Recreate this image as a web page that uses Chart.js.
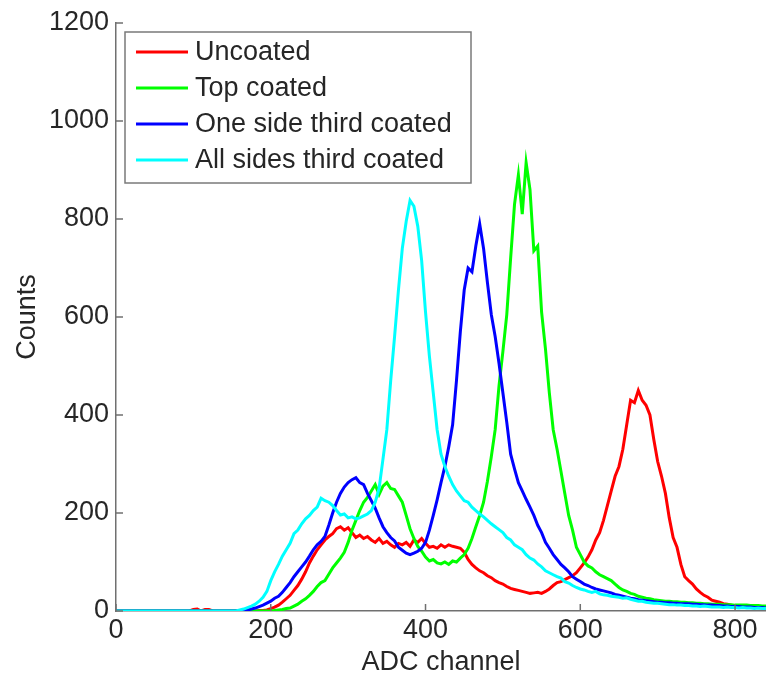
<!DOCTYPE html>
<html>
<head>
<meta charset="utf-8">
<script src="https://cdn.jsdelivr.net/npm/chart.js@4.4.1/dist/chart.umd.min.js"></script>
<style>
    html, body { margin: 0; padding: 0; background: #fff; }
    #chart { display: block; }
</style>
</head>
<body>
<canvas id="chart" width="766" height="676"></canvas>
<script>
// ADC channel bins (every 5 channels, 0..845)
const channels = Array.from({ length: 170 }, (_, i) => i * 5);

const seriesNames = ['Uncoated', 'Top coated', 'One side third coated', 'All sides third coated'];
const seriesColors = ['#ff0000', '#00ff00', '#0000ff', '#00ffff'];

const xTicks = [0, 200, 400, 600, 800];
const yTicks = [0, 200, 400, 600, 800, 1000, 1200];

const uncoated = [
    0, 0, 0, 0, 0, 0, 0, 0, 0, 0, 0, 0, 0, 0, 0, 0, 0, 0, 0, 0,
    3, 4, 0, 3, 3, 0, 0, 0, 0, 0, 0, 0, 0, 0, 0, 0, 0, 1, 1, 2,
    5, 8, 12, 18, 25, 32, 42, 52, 65, 80, 98, 112, 125, 135, 145, 152, 158, 168, 172, 165,
    170, 160, 150, 155, 148, 152, 145, 140, 148, 138, 142, 135, 130, 138, 135, 140, 132, 145, 140, 148,
    138, 130, 132, 128, 135, 130, 135, 132, 130, 128, 120, 105, 95, 88, 82, 78, 72, 68, 62, 58,
    55, 50, 46, 44, 42, 40, 38, 36, 37, 38, 36, 40, 45, 52, 58, 60, 64, 68, 72, 78,
    88, 98, 110, 125, 145, 160, 185, 215, 245, 275, 295, 330, 380, 430, 425, 450, 430, 420, 400, 350,
    305, 275, 240, 190, 150, 130, 95, 70, 62, 55, 45, 38, 32, 28, 22, 20, 18, 15, 14, 12,
    11, 10, 9, 8, 8, 7, 7, 6, 6, 5
];

const topCoated = [
    0, 0, 0, 0, 0, 0, 0, 0, 0, 0, 0, 0, 0, 0, 0, 0, 0, 0, 0, 0,
    0, 0, 0, 0, 0, 0, 0, 0, 0, 0, 0, 0, 0, 0, 0, 0, 0, 0, 0, 0,
    0, 1, 2, 3, 5, 6, 10, 14, 20, 25, 32, 40, 50, 58, 62, 75, 88, 98, 108, 120,
    140, 165, 185, 205, 222, 232, 245, 258, 238, 255, 262, 250, 248, 235, 222, 195, 168, 148, 132, 122,
    110, 102, 105, 98, 96, 100, 95, 102, 100, 108, 115, 128, 148, 172, 195, 222, 265, 315, 370, 460,
    530, 605, 720, 830, 890, 810, 915, 860, 735, 745, 610, 535, 445, 370, 330, 285, 240, 195, 165, 130,
    115, 100, 92, 88, 80, 74, 70, 66, 62, 55, 48, 43, 40, 36, 34, 30, 28, 26, 25, 23,
    22, 21, 20, 20, 19, 19, 18, 18, 17, 17, 16, 16, 15, 15, 14, 14, 14, 13, 13, 13,
    12, 12, 12, 12, 11, 11, 11, 10, 10, 10
];

const oneSide = [
    0, 0, 0, 0, 0, 0, 0, 0, 0, 0, 0, 0, 0, 0, 0, 0, 0, 0, 0, 0,
    0, 0, 0, 0, 0, 0, 0, 0, 0, 0, 0, 0, 0, 0, 2, 4, 6, 9, 12, 16,
    20, 26, 30, 38, 48, 58, 70, 80, 90, 100, 112, 125, 135, 142, 152, 175, 200, 222, 240, 253,
    262, 268, 272, 262, 258, 240, 225, 210, 190, 172, 160, 150, 143, 130, 124, 118, 115, 118, 122, 128,
    140, 165, 195, 227, 262, 295, 335, 380, 470, 570, 655, 700, 692, 745, 790, 740, 670, 605, 560, 505,
    445, 385, 320, 290, 262, 245, 228, 212, 195, 175, 160, 140, 128, 115, 105, 95, 88, 80, 70, 65,
    60, 55, 52, 48, 45, 43, 41, 39, 37, 34, 32, 30, 28, 26, 25, 23, 22, 21, 20, 19,
    18, 18, 17, 17, 16, 16, 15, 15, 15, 14, 14, 13, 13, 12, 12, 11, 11, 10, 10, 9,
    9, 9, 8, 8, 8, 7, 7, 7, 6, 6
];

const allSides = [
    0, 0, 0, 0, 0, 0, 0, 0, 0, 0, 0, 0, 0, 0, 0, 0, 0, 0, 0, 0,
    0, 0, 0, 0, 0, 0, 0, 0, 0, 0, 0, 0, 2, 4, 7, 10, 14, 20, 28, 40,
    62, 80, 95, 112, 125, 138, 158, 165, 178, 188, 195, 205, 212, 230, 225, 222, 215, 205, 196, 198,
    190, 192, 188, 190, 194, 198, 205, 222, 250, 310, 370, 470, 560, 655, 740, 795, 838, 826, 785, 715,
    610, 520, 445, 370, 320, 295, 275, 258, 245, 235, 225, 222, 212, 205, 198, 192, 185, 178, 172, 166,
    160, 150, 145, 135, 130, 125, 115, 108, 104, 96, 90, 82, 78, 74, 70, 67, 60, 57, 52, 48,
    45, 43, 40, 38, 40, 35, 33, 32, 30, 29, 28, 26, 27, 24, 22, 20, 20, 18, 17, 16,
    16, 15, 14, 13, 13, 12, 12, 11, 11, 10, 10, 9, 10, 9, 8, 8, 8, 7, 8, 7,
    7, 6, 7, 6, 6, 5, 6, 5, 5, 5
];

const seriesValues = [uncoated, topCoated, oneSide, allSides];

const FONT = "'Liberation Sans', Arial, Helvetica, sans-serif";
const TEXT_COLOR = '#262626';
const AXIS_COLOR = '#707070';

function toPoints(values) {
    return values.map((v, i) => ({ x: channels[i], y: v }));
}

// MATLAB style ticks pointing into the plot
const inwardTicks = {
    id: 'inwardTicks',
    afterDraw(chart) {
        const { ctx, chartArea, scales: { x, y } } = chart;
        ctx.save();
        ctx.strokeStyle = AXIS_COLOR;
        ctx.lineWidth = 1.5;
        ctx.beginPath();
        xTicks.forEach(v => {
            const px = x.getPixelForValue(v);
            ctx.moveTo(px, chartArea.bottom);
            ctx.lineTo(px, chartArea.bottom - 7);
        });
        yTicks.forEach(v => {
            const py = y.getPixelForValue(v);
            ctx.moveTo(chartArea.left, py);
            ctx.lineTo(chartArea.left + 7, py);
        });
        ctx.stroke();
        ctx.restore();
    }
};

// boxed legend in the top-left corner of the axes
const boxLegend = {
    id: 'boxLegend',
    afterDraw(chart) {
        const { ctx } = chart;
        const box = { x: 125, y: 32, w: 346, h: 151 };
        ctx.save();
        ctx.fillStyle = '#fff';
        ctx.fillRect(box.x, box.y, box.w, box.h);
        ctx.strokeStyle = '#7a7a7a';
        ctx.lineWidth = 1.5;
        ctx.strokeRect(box.x, box.y, box.w, box.h);
        ctx.font = `27px ${FONT}`;
        ctx.textBaseline = 'middle';
        ctx.textAlign = 'left';
        seriesNames.forEach((name, i) => {
            const yy = 52 + i * 36;
            ctx.strokeStyle = seriesColors[i];
            ctx.lineWidth = 3;
            ctx.beginPath();
            ctx.moveTo(136, yy);
            ctx.lineTo(188, yy);
            ctx.stroke();
            ctx.fillStyle = TEXT_COLOR;
            ctx.fillText(name, 195, yy + 1);
        });
        ctx.restore();
    }
};

const ctx = document.getElementById('chart').getContext('2d');
new Chart(ctx, {
    type: 'line',
    data: {
        datasets: seriesNames.map((name, i) => ({
            label: name,
            data: toPoints(seriesValues[i]),
            borderColor: seriesColors[i],
            borderWidth: 3,
            pointRadius: 0,
            tension: 0,
            fill: false,
            order: seriesNames.length - i
        }))
    },
    options: {
        responsive: false,
        animation: false,
        layout: { padding: { top: 23, right: 0, bottom: 0, left: 0 } },
        plugins: {
            legend: { display: false },
            tooltip: { enabled: false }
        },
        scales: {
            x: {
                type: 'linear',
                min: 0,
                max: 840,
                afterFit: s => { s.height = 65; },
                afterBuildTicks: s => { s.ticks = xTicks.map(v => ({ value: v })); },
                grid: { display: false, drawTicks: false },
                border: { display: true, color: AXIS_COLOR, width: 1.5 },
                ticks: {
                    padding: 6,
                    color: TEXT_COLOR,
                    font: { family: FONT, size: 27, lineHeight: 1 },
                    maxRotation: 0,
                    callback: v => String(v)
                },
                title: {
                    display: true,
                    text: 'ADC channel',
                    color: TEXT_COLOR,
                    font: { family: FONT, size: 27, lineHeight: 1 },
                    padding: { top: 0, bottom: 0 }
                }
            },
            y: {
                type: 'linear',
                min: 0,
                max: 1200,
                afterFit: s => { s.width = 116; },
                afterBuildTicks: s => { s.ticks = yTicks.map(v => ({ value: v })); },
                grid: { display: false, drawTicks: false },
                border: { display: true, color: AXIS_COLOR, width: 1.5 },
                ticks: {
                    padding: 7,
                    color: TEXT_COLOR,
                    font: { family: FONT, size: 27, lineHeight: 1 },
                    callback: v => String(v)
                },
                title: {
                    display: true,
                    text: 'Counts',
                    color: TEXT_COLOR,
                    font: { family: FONT, size: 27, lineHeight: 1 },
                    padding: { top: 14, bottom: 0 }
                }
            }
        }
    },
    plugins: [inwardTicks, boxLegend]
});
</script>
</body>
</html>
